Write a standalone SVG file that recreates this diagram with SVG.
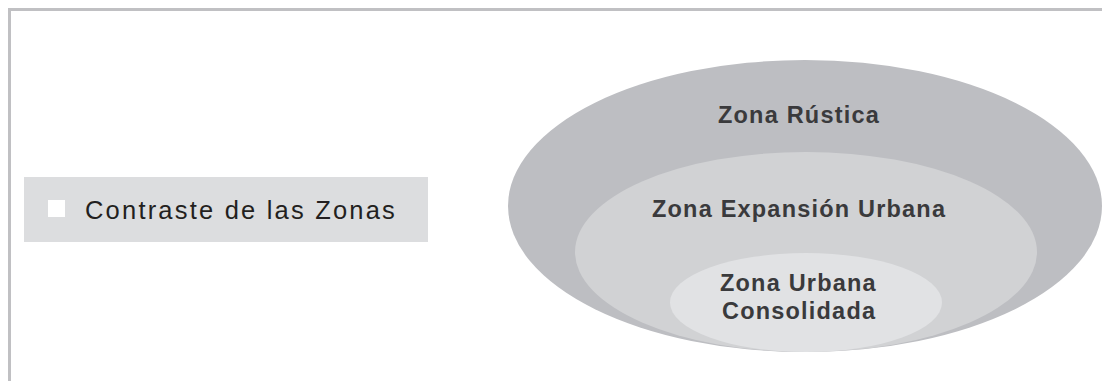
<svg xmlns="http://www.w3.org/2000/svg" width="1102" height="381" viewBox="0 0 1102 381">
<style>
.frame{fill:none;stroke:#c0c0c3;stroke-width:3}
.lbl{font-family:"Liberation Sans",Arial,sans-serif;font-weight:bold;font-size:23.5px;fill:#3a3a3c;letter-spacing:1.2px}
.title{font-family:"Liberation Sans",Arial,sans-serif;font-size:25.5px;fill:#231f20;letter-spacing:2.2px}
</style>
<rect width="1102" height="381" fill="#ffffff"/>
<path class="frame" d="M9.5 381 V9.5 H1102"/>
<g id="legend">
<rect x="24" y="177" width="404" height="65" fill="#dcdddf"/>
<rect x="48" y="200" width="17" height="17" fill="#ffffff"/>
<text class="title" x="85" y="219">Contraste de las Zonas</text>
</g>
<g id="zona-rustica">
<ellipse cx="805" cy="206" rx="297" ry="146" fill="#bdbec2"/>
<text class="lbl" x="718" y="123">Zona Rústica</text>
</g>
<g id="zona-expansion">
<ellipse cx="806" cy="252" rx="231" ry="100" fill="#d1d2d4"/>
<text class="lbl" x="652" y="217">Zona Expansión Urbana</text>
</g>
<g id="zona-urbana">
<ellipse cx="806" cy="302.5" rx="136" ry="49.5" fill="#e1e2e4"/>
<text class="lbl" x="720" y="291">Zona Urbana</text>
<text class="lbl" x="722" y="319">Consolidada</text>
</g>
<g id="connectors"/>
</svg>
